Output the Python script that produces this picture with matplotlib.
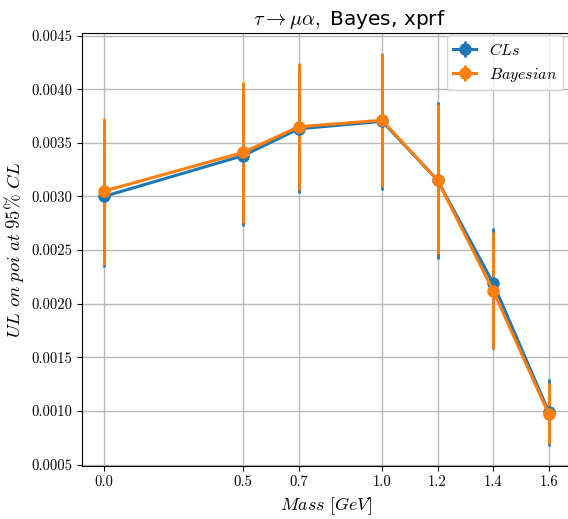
import numpy as np
import matplotlib
matplotlib.use("Agg")
import matplotlib.pyplot as plt

plt.rcParams['mathtext.fontset'] = 'cm'
plt.rcParams['font.family'] = 'serif'
plt.rcParams['font.serif'] = ['cmr10', 'DejaVu Serif']
plt.rcParams['axes.formatter.use_mathtext'] = True

# upper limits vs mass
mass = [0.0, 0.5, 0.7, 1.0, 1.2, 1.4, 1.6]

ul_cls = np.array([0.00300, 0.00338, 0.00363, 0.00370, 0.00315, 0.00219, 0.00099])
cls_lo = np.array([0.00234, 0.00272, 0.00303, 0.00306, 0.00242, 0.00158, 0.00067])
cls_hi = np.array([0.00370, 0.00404, 0.00421, 0.00433, 0.00388, 0.00271, 0.00130])

ul_bay = np.array([0.00305, 0.00341, 0.00365, 0.00371, 0.00315, 0.00212, 0.00097])
bay_lo = np.array([0.00236, 0.00275, 0.00306, 0.00309, 0.00246, 0.00158, 0.00069])
bay_hi = np.array([0.00373, 0.00407, 0.00424, 0.00434, 0.00386, 0.00267, 0.00126])

fig = plt.figure(figsize=(5.68, 5.19), dpi=100)
ax = fig.add_axes([82 / 568, 53 / 519, 489 / 568, 433 / 519])

ax.errorbar(mass, ul_cls, yerr=[ul_cls - cls_lo, cls_hi - ul_cls], fmt='o-',
            color='#1f77b4', lw=2.2, elinewidth=2, ms=8, label='$CLs$')
ax.errorbar(mass, ul_bay, yerr=[ul_bay - bay_lo, bay_hi - ul_bay], fmt='o-',
            color='#ff7f0e', lw=2.2, elinewidth=2, ms=8, label='$Bayesian$')

ax.set_xticks(mass)
ax.set_xticklabels(['0.0', '0.5', '0.7', '1.0', '1.2', '1.4', '1.6'])
ax.set_yticks(np.arange(0.0005, 0.00451, 0.0005))
ax.set_yticklabels(['%.4f' % v for v in np.arange(0.0005, 0.00451, 0.0005)])
ax.tick_params(labelsize=10.5)
ax.grid(True, color='#b8b8b8', lw=1)
ax.set_axisbelow(True)

ax.set_xlabel(r'$Mass\ [GeV]$', fontsize=13)
ax.set_ylabel(r'$UL\ on\ poi\ at\ 95\%\ CL$', fontsize=13.5)
ax.set_title(r'$\tau \to \mu\alpha,$ Bayes, xprf', fontsize=14.5,
             fontfamily='DejaVu Sans', x=0.547)
ax.legend(loc='upper right', fontsize=11.5, handlelength=1.4,
          borderaxespad=0, bbox_to_anchor=(0.984, 0.995))

fig.savefig('out.png', dpi=100)
